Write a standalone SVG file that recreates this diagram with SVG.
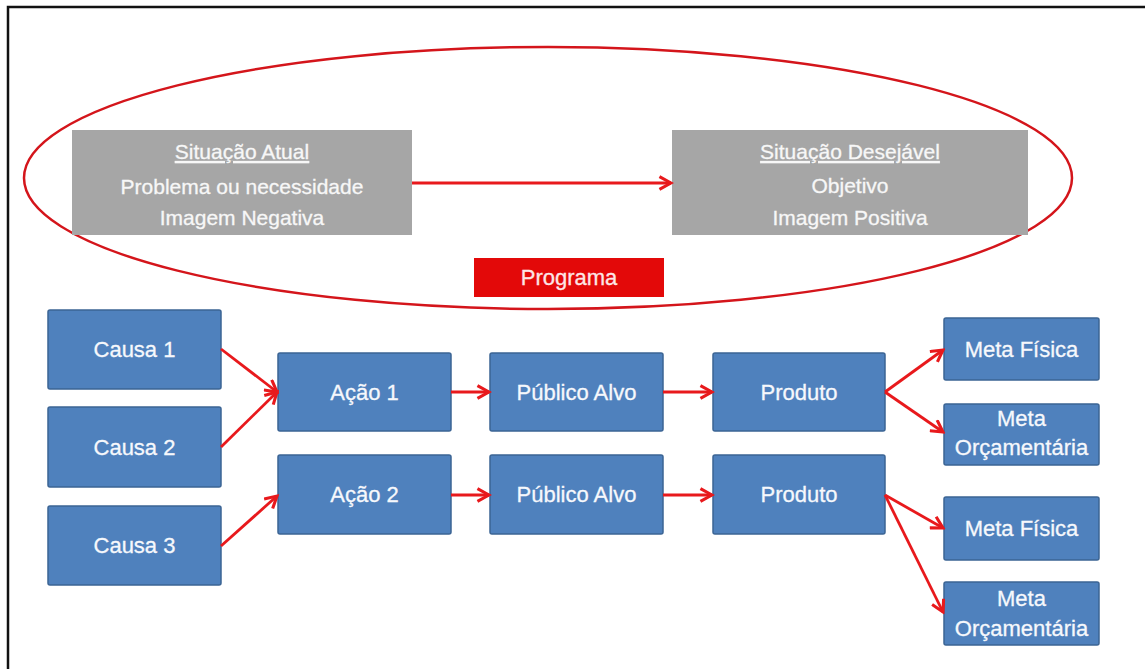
<svg xmlns="http://www.w3.org/2000/svg" width="1145" height="669" viewBox="0 0 1145 669">
  <style>
    .frame { stroke: #111; stroke-width: 2.5; fill: none; }
    .blue { fill: #4f81bd; stroke: #3b6494; stroke-width: 1.5; }
    .gray { fill: #a6a6a6; }
    .prog { fill: #e30909; }
    .t { font-family: "Liberation Sans", Arial, sans-serif; font-size: 22px; fill: #f6f8fc; text-anchor: middle; stroke: #f6f8fc; stroke-width: 0.3; }
    .tg { font-family: "Liberation Sans", Arial, sans-serif; font-size: 21px; fill: #f7f7f7; text-anchor: middle; stroke: #f7f7f7; stroke-width: 0.3; }
    .tp { font-family: "Liberation Sans", Arial, sans-serif; font-size: 22px; fill: #fde6e6; text-anchor: middle; stroke: #fde6e6; stroke-width: 0.3; }
    .u { text-decoration: underline; }
    .edge { stroke: #e8191c; stroke-width: 2.8; fill: none; marker-end: url(#arrow); }
    .oval { stroke: #d4151b; stroke-width: 2.5; fill: none; }
  </style>
  <defs>
    <marker id="arrow" viewBox="0 0 12 12" refX="10" refY="6" markerWidth="5.5" markerHeight="5.5" orient="auto" markerUnits="strokeWidth">
      <path d="M1,1 L10,6 L1,11" fill="none" stroke="#e8191c" stroke-width="2.4" stroke-linejoin="miter"/>
    </marker>
  </defs>

  <rect width="1145" height="669" fill="#ffffff"/>
  <!-- page frame -->
  <path class="frame" d="M8,669 L8,7 L1145,7"/>

  <!-- program scope -->
  <ellipse class="oval" cx="548" cy="178" rx="524" ry="131"/>

  <g id="situacao-atual">
    <rect class="gray" x="72" y="130" width="340" height="105"/>
    <text class="tg u" x="242" y="159">Situação Atual</text>
    <text class="tg" x="242" y="194">Problema ou necessidade</text>
    <text class="tg" x="242" y="225">Imagem Negativa</text>
  </g>
  <g id="situacao-desejavel">
    <rect class="gray" x="672" y="130" width="356" height="105"/>
    <text class="tg u" x="850" y="159">Situação Desejável</text>
    <text class="tg" x="850" y="193">Objetivo</text>
    <text class="tg" x="850" y="225">Imagem Positiva</text>
  </g>
  <g id="programa">
    <rect class="prog" x="474" y="258" width="190" height="39"/>
    <text class="tp" x="569" y="285">Programa</text>
  </g>

  <g id="causa1">
    <rect class="blue" x="48" y="310" width="173" height="79" rx="2"/>
    <text class="t" x="134.5" y="357">Causa 1</text>
  </g>
  <g id="causa2">
    <rect class="blue" x="48" y="407" width="173" height="80" rx="2"/>
    <text class="t" x="134.5" y="455">Causa 2</text>
  </g>
  <g id="causa3">
    <rect class="blue" x="48" y="506" width="173" height="79" rx="2"/>
    <text class="t" x="134.5" y="553">Causa 3</text>
  </g>
  <g id="acao1">
    <rect class="blue" x="278" y="353" width="173" height="78" rx="2"/>
    <text class="t" x="364.5" y="400">Ação 1</text>
  </g>
  <g id="acao2">
    <rect class="blue" x="278" y="455" width="173" height="79" rx="2"/>
    <text class="t" x="364.5" y="502">Ação 2</text>
  </g>
  <g id="publico1">
    <rect class="blue" x="490" y="353" width="173" height="78" rx="2"/>
    <text class="t" x="576.5" y="400">Público Alvo</text>
  </g>
  <g id="publico2">
    <rect class="blue" x="490" y="455" width="173" height="79" rx="2"/>
    <text class="t" x="576.5" y="502">Público Alvo</text>
  </g>
  <g id="produto1">
    <rect class="blue" x="713" y="353" width="172" height="78" rx="2"/>
    <text class="t" x="799" y="400">Produto</text>
  </g>
  <g id="produto2">
    <rect class="blue" x="713" y="455" width="172" height="79" rx="2"/>
    <text class="t" x="799" y="502">Produto</text>
  </g>
  <g id="meta-fisica1">
    <rect class="blue" x="944" y="318" width="155" height="62" rx="2"/>
    <text class="t" x="1021.5" y="357">Meta Física</text>
  </g>
  <g id="meta-orcamentaria1">
    <rect class="blue" x="944" y="404" width="155" height="61" rx="2"/>
    <text class="t" x="1021.5" y="426">Meta</text>
    <text class="t" x="1021.5" y="455">Orçamentária</text>
  </g>
  <g id="meta-fisica2">
    <rect class="blue" x="944" y="497" width="155" height="63" rx="2"/>
    <text class="t" x="1021.5" y="536">Meta Física</text>
  </g>
  <g id="meta-orcamentaria2">
    <rect class="blue" x="944" y="582" width="155" height="63" rx="2"/>
    <text class="t" x="1021.5" y="606">Meta</text>
    <text class="t" x="1021.5" y="636">Orçamentária</text>
  </g>

  <g id="connectors">
    <line class="edge" x1="412" y1="183" x2="671" y2="183"/>
    <line class="edge" x1="221" y1="349" x2="277" y2="392"/>
    <line class="edge" x1="221" y1="447" x2="277" y2="392"/>
    <line class="edge" x1="221" y1="546" x2="277" y2="496"/>
    <line class="edge" x1="451" y1="392" x2="489" y2="392"/>
    <line class="edge" x1="451" y1="495" x2="489" y2="495"/>
    <line class="edge" x1="663" y1="392" x2="712" y2="392"/>
    <line class="edge" x1="663" y1="495" x2="712" y2="495"/>
    <line class="edge" x1="885" y1="392" x2="943" y2="350"/>
    <line class="edge" x1="885" y1="392" x2="943" y2="432"/>
    <line class="edge" x1="885" y1="495" x2="943" y2="528"/>
    <line class="edge" x1="885" y1="495" x2="943" y2="612"/>
  </g>
</svg>
